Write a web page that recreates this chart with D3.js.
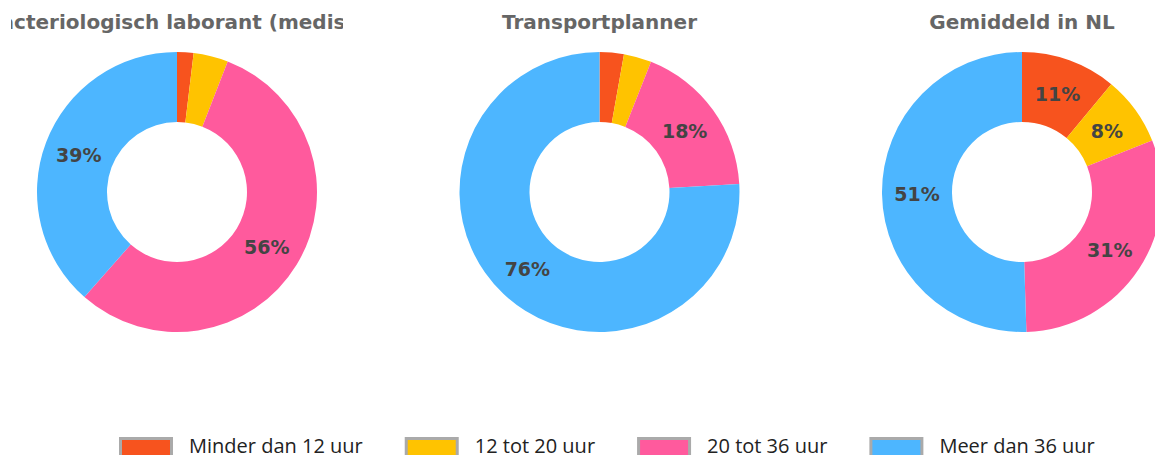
<!DOCTYPE html>
<html>
<head>
<meta charset="utf-8">
<script src="https://cdn.jsdelivr.net/npm/d3@7"></script>
<style>
  body { margin: 0; background: #fff; }
  svg { display: block; }
</style>
</head>
<body>
<svg></svg>
<script>
// categories and colours
const categories = ["Minder dan 12 uur", "12 tot 20 uur", "20 tot 36 uur", "Meer dan 36 uur"];
const colors = ["#F7531E", "#FFC300", "#FF5A9D", "#4DB6FF"];

// one title + share per donut
const titles = ["Bacteriologisch laborant (medisch)", "Transportplanner", "Gemiddeld in NL"];
const laborant = [1.9, 4.0, 55.6, 38.5];
const transport = [2.8, 3.2, 18.1, 75.9];
const gemiddeld = [11, 8, 30.5, 50.5];
const series = [laborant, transport, gemiddeld];

const width = 1155, height = 455;
const svg = d3.select("svg").attr("width", width).attr("height", height);

// where the donuts go
const xPos = d3.scalePoint().domain(d3.range(titles.length)).range([177, 1022]);
const cy = 192, outerR = 140, innerR = 70;

const pie = d3.pie().sort(null).value(d => d);
const arc = d3.arc().innerRadius(innerR).outerRadius(outerR);
const labelArc = d3.arc().innerRadius((innerR + outerR) / 2).outerRadius((innerR + outerR) / 2);

titles.forEach((t, i) => {
  const cx = xPos(i);

  // title is clipped to a box around its donut
  svg.append("clipPath").attr("id", "clip" + i)
    .append("rect").attr("x", cx - 166).attr("y", 0).attr("width", 332).attr("height", 40);

  // long title sits a bit right of centre in the original
  const shift = i === 0 ? 6 : 0;
  svg.append("text")
    .attr("clip-path", `url(#clip${i})`)
    .attr("x", cx + shift).attr("y", 29)
    .attr("text-anchor", "middle")
    .style("font-family", "DejaVu Sans")
    .style("font-weight", "bold")
    .style("font-size", "20px")
    .style("fill", "#666")
    .text(t);

  const g = svg.append("g").attr("transform", `translate(${cx},${cy})`);
  const arcs = pie(series[i]);

  g.selectAll("path")
    .data(arcs)
    .join("path")
    .attr("d", arc)
    .attr("fill", (d, j) => colors[j]);

  // only label the bigger slices
  g.selectAll("text")
    .data(arcs.filter(d => d.value >= 7))
    .join("text")
    .attr("transform", d => `translate(${labelArc.centroid(d)})`)
    .attr("text-anchor", "middle")
    .attr("dy", "0.4em")
    .style("font-family", "DejaVu Sans")
    .style("font-weight", "bold")
    .style("font-size", "19px")
    .style("fill", "#444")
    .text(d => Math.round(d.value) + "%");
});

// legend along the bottom
const legend = svg.append("g").attr("transform", "translate(119,437)");
let x = 0;
categories.forEach((c, i) => {
  const item = legend.append("g").attr("transform", `translate(${x},0)`);
  item.append("rect")
    .attr("x", 1.5).attr("y", 1.5)
    .attr("width", 51).attr("height", 24)
    .attr("fill", colors[i])
    .attr("stroke", "#aaa")
    .attr("stroke-width", 3);
  const txt = item.append("text")
    .attr("x", 70).attr("y", 16)
    .style("font-family", "Open Sans")
    .style("font-size", "20px")
    .style("fill", "#222")
    .text(c);
  x += 70 + txt.node().getComputedTextLength() + 42;
});
</script>
</body>
</html>
